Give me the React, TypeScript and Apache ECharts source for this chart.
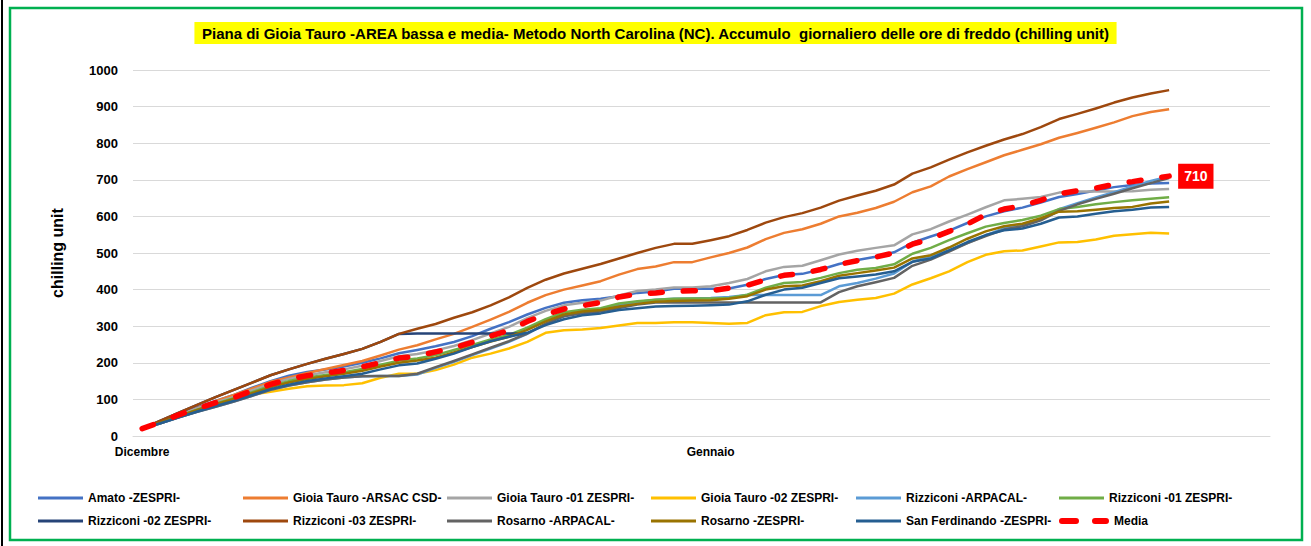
import React, { useEffect, useRef } from "react";
import * as echarts from "echarts";

const FONT = "Liberation Sans, Arial, sans-serif";

const titleText =
  "Piana di Gioia Tauro -AREA bassa e media- Metodo North Carolina (NC). Accumulo  giornaliero delle ore di freddo (chilling unit)";

// 62 days: 1 Dec .. 31 Jan
const days = [
  "01/12","02/12","03/12","04/12","05/12","06/12","07/12","08/12","09/12","10/12",
  "11/12","12/12","13/12","14/12","15/12","16/12","17/12","18/12","19/12","20/12",
  "21/12","22/12","23/12","24/12","25/12","26/12","27/12","28/12","29/12","30/12","31/12",
  "01/01","02/01","03/01","04/01","05/01","06/01","07/01","08/01","09/01","10/01",
  "11/01","12/01","13/01","14/01","15/01","16/01","17/01","18/01","19/01","20/01",
  "21/01","22/01","23/01","24/01","25/01","26/01","27/01","28/01","29/01","30/01","31/01",
];
const monthTickIdx = [0, 31];
const monthTickText = ["Dicembre", "Gennaio"];

const names = [
  "Amato -ZESPRI-",
  "Gioia Tauro -ARSAC CSD-",
  "Gioia Tauro -01 ZESPRI-",
  "Gioia Tauro -02 ZESPRI-",
  "Rizziconi -ARPACAL-",
  "Rizziconi -01 ZESPRI-",
  "Rizziconi -02 ZESPRI-",
  "Rizziconi -03 ZESPRI-",
  "Rosarno -ARPACAL-",
  "Rosarno -ZESPRI-",
  "San Ferdinando -ZESPRI-",
  "Media",
];
const colors = [
  "#4472C4", "#ED7D31", "#A5A5A5", "#FFC000", "#5B9BD5", "#70AD47",
  "#264478", "#9E480E", "#636363", "#997300", "#255E91", "#FF0000",
];

const amato = [
  20,39,59,78,96,112,132,150,165,175,182,190,200,212,226,
  235,245,257,273,293,311,332,350,364,371,375,382,391,395,
  402,402,402,403,413,429,440,443,455,470,481,490,502,
  528,545,561,582,600,614,624,638,653,661,671,680,686,690,691,
];
const gioiaArsac = [
  20,38,57,76,95,112,130,148,160,172,183,194,205,220,236,
  248,264,279,298,318,339,364,385,400,411,423,441,456,463,
  475,475,488,500,515,538,555,565,580,600,610,623,640,
  666,682,709,729,748,767,782,797,815,828,842,857,874,885,893,
];
const gioia01 = [
  20,38,57,75,92,107,125,142,156,166,174,182,192,205,218,
  224,234,246,262,280,298,322,342,357,364,370,384,396,400,
  406,406,409,418,429,450,462,465,480,496,506,514,521,
  551,565,586,605,625,644,648,653,665,668,668,668,669,673,675,
];
const gioia02 = [
  20,36,53,70,86,100,113,121,129,136,138,139,144,159,170,
  170,180,195,214,225,239,257,282,289,291,295,302,309,309,
  311,311,309,307,309,330,338,339,355,366,372,377,389,
  414,431,450,475,495,505,507,518,529,530,537,547,551,555,553,
];
const rizzArpacal = [
  20,35,51,66,80,94,110,126,138,147,154,160,163,164,164,
  168,186,203,221,239,257,279,306,328,340,348,358,366,372,
  375,376,377,380,385,385,385,385,385,409,418,430,444,
  476,491,507,527,548,568,578,591,620,636,652,666,682,697,709,
];
const rizz01 = [
  20,37,55,72,88,103,120,137,150,160,167,174,183,195,206,
  212,221,235,249,264,276,296,319,338,345,349,362,368,372,
  375,376,376,377,386,405,418,421,432,445,454,459,469,
  498,514,535,554,572,582,590,602,620,626,633,639,644,648,652,
];
const rizz02 = [
  20,42,64,85,106,126,146,166,182,197,211,224,238,257,279,
  280,280,280,280,280,280,280,
];
const rizz03 = [
  20,42,64,85,106,126,146,166,182,197,211,224,238,257,279,
  293,306,323,338,357,379,405,427,444,457,470,485,500,514,
  525,525,535,546,563,583,598,609,624,643,657,670,687,
  717,734,755,775,793,810,825,844,866,880,895,911,925,936,945,
];
const rosarnoArpacal = [
  20,35,51,66,80,94,110,126,138,147,154,160,163,164,164,
  170,188,205,223,241,259,280,307,327,335,340,350,359,365,
  365,365,365,365,365,365,365,365,365,393,409,420,432,
  465,482,504,527,546,564,573,589,615,633,648,662,677,691,705,
];
const rosarnoZespri = [
  20,37,54,71,87,101,117,133,146,156,163,170,178,190,200,
  206,214,228,243,258,271,290,313,332,340,344,354,361,367,
  369,370,371,375,382,400,409,411,423,438,445,452,460,
  485,494,515,539,559,573,580,595,613,614,618,623,626,635,641,
];
const sanFerdinando = [
  20,35,51,67,82,96,112,128,140,150,157,163,170,182,193,
  198,211,225,243,259,271,282,303,319,330,335,344,349,354,
  355,356,357,359,368,386,400,405,418,431,436,441,450,
  476,485,507,530,549,562,567,580,597,600,607,614,618,624,626,
];
const media = [
  20,38,58,75,91,105,124,141,155,165,172,179,189,200,213,
  218,230,241,256,273,289,313,332,347,356,365,380,388,391,
  395,397,397,404,412,427,439,444,455,469,479,489,500,
  524,539,559,579,605,620,629,644,662,670,677,688,695,703,710,
];

const seriesData = [
  amato, gioiaArsac, gioia01, gioia02, rizzArpacal, rizz01,
  rizz02, rizz03, rosarnoArpacal, rosarnoZespri, sanFerdinando, media,
];

export default function App() {
  const ref = useRef<HTMLDivElement>(null);

  useEffect(() => {
    if (!ref.current) return;
    const chart = echarts.init(ref.current, null, { renderer: "svg" });

    const legendCols = [38, 243, 447, 651, 856, 1059];
    const legendRows = [492, 515];

    const legends = names.map((n, i) => {
      const isMedia = n === "Media";
      return {
        data: [n],
        left: legendCols[i % 6],
        top: legendRows[Math.floor(i / 6)],
        padding: 0,
        itemWidth: isMedia ? 50 : 45,
        itemHeight: isMedia ? 6 : 3,
        icon: isMedia
          ? "path://M3,0h14a3,3 0 0 1 0,6h-14a3,3 0 0 1 0,-6z M36,0h11a3,3 0 0 1 0,6h-11a3,3 0 0 1 0,-6z"
          : "rect",
        textStyle: {
          fontFamily: FONT,
          fontSize: 12,
          fontWeight: "bold",
          color: "#000",
        },
        selectedMode: false,
      };
    });

    const series = names.map((n, i) => {
      const isMedia = n === "Media";
      return {
        name: n,
        type: "line",
        data: seriesData[i],
        showSymbol: false,
        symbol: "none",
        color: colors[i],
        z: isMedia ? 5 : 2,
        lineStyle: isMedia
          ? { width: 5.5, color: colors[i], type: [12, 21], cap: "round" }
          : { width: 2.5, color: colors[i], join: "round" },
        endLabel: isMedia
          ? {
              show: true,
              formatter: (p: any) => String(p.value),
              backgroundColor: "#FF0000",
              color: "#fff",
              fontFamily: FONT,
              fontWeight: "bold",
              fontSize: 14,
              padding: [6, 6, 5, 6],
              distance: 9,
            }
          : undefined,
        emphasis: { disabled: true },
      };
    });

    const option: any = {
      animation: false,
      backgroundColor: "#ffffff",
      textStyle: { fontFamily: FONT },
      title: {
        text: titleText,
        left: "center",
        top: 22,
        backgroundColor: "#FFFF00",
        padding: [4, 7, 3, 7],
        textStyle: {
          fontFamily: FONT,
          fontSize: 15,
          fontWeight: "bold",
          color: "#000",
        },
      },
      grid: { left: 133, right: 41, top: 70, bottom: 110, containLabel: false },
      xAxis: {
        type: "category",
        data: days,
        boundaryGap: true,
        axisLine: { show: true, lineStyle: { color: "#D9D9D9", width: 1 } },
        axisTick: { show: false },
        axisLabel: {
          interval: (idx: number) => monthTickIdx.indexOf(idx) >= 0,
          formatter: (_v: string, idx: number) => {
            const k = monthTickIdx.indexOf(idx);
            return k >= 0 ? monthTickText[k] : "";
          },
          fontFamily: FONT,
          fontSize: 12,
          fontWeight: "bold",
          color: "#000",
          margin: 10,
        },
        splitLine: { show: false },
      },
      yAxis: {
        type: "value",
        min: 0,
        max: 1000,
        interval: 100,
        name: "chilling unit",
        nameLocation: "middle",
        nameRotate: 90,
        nameGap: 68,
        nameTextStyle: {
          fontFamily: FONT,
          fontSize: 16,
          fontWeight: "bold",
          color: "#000",
        },
        axisLine: { show: false },
        axisTick: { show: false },
        axisLabel: {
          formatter: (v: number) => String(v),
          fontFamily: FONT,
          fontSize: 13,
          fontWeight: "bold",
          color: "#000",
          margin: 15,
        },
        splitLine: { lineStyle: { color: "#D9D9D9", width: 1 } },
      },
      legend: legends,
      series,
      graphic: [
        {
          type: "rect",
          shape: { x: 10, y: 8, width: 1292, height: 532 },
          style: { fill: "none", stroke: "#00B050", lineWidth: 2.5 },
          silent: true,
        },
        {
          type: "line",
          shape: { x1: 2, y1: 0, x2: 2, y2: 546 },
          style: { stroke: "#000", lineWidth: 2 },
          silent: true,
        },
      ],
    };

    chart.setOption(option);
    return () => chart.dispose();
  }, []);

  return (
    <div
      ref={ref}
      style={{ position: "absolute", left: 0, top: 0, width: 1311, height: 546 }}
    />
  );
}
